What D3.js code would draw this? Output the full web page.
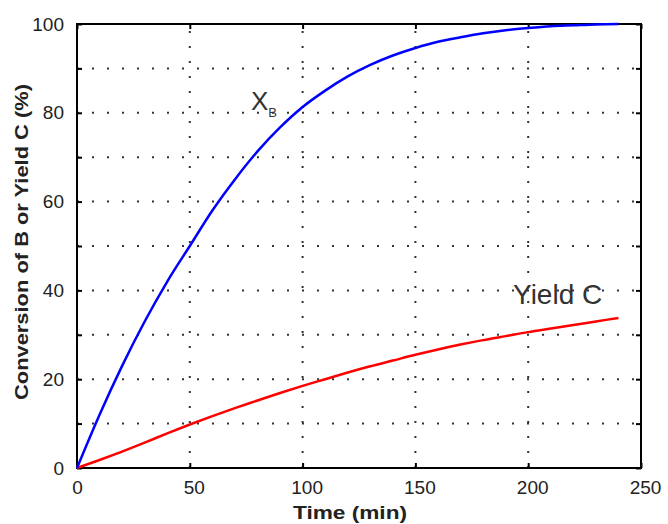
<!DOCTYPE html>
<html>
<head>
<meta charset="utf-8">
<script src="https://cdn.jsdelivr.net/npm/d3@7"></script>
<style>
  body { margin: 0; background: #fff; }
  text { font-family: "Liberation Sans", Arial, sans-serif; }
</style>
</head>
<body>
<div id="chart"></div>
<script>
// values
const time = [0, 10, 20, 30, 40, 50, 60, 70, 80, 90, 100, 110, 120, 130, 140, 150, 160, 170, 180, 190, 200, 210, 220, 230, 240];
const conversionB = [0, 12, 23, 33, 42, 50, 58, 65, 71.3, 76.7, 81.3, 85, 88.2, 90.8, 92.9, 94.6, 96, 97, 97.9, 98.6, 99.1, 99.5, 99.7, 99.9, 100];
const yieldC = [0, 1.8, 3.7, 5.7, 7.8, 9.8, 11.7, 13.5, 15.2, 16.9, 18.5, 20, 21.5, 22.9, 24.2, 25.5, 26.7, 27.8, 28.8, 29.7, 30.6, 31.4, 32.2, 33, 33.8];
const xTicks = [0, 50, 100, 150, 200, 250];
const yTicks = [0, 10, 20, 30, 40, 50, 60, 70, 80, 90, 100];
const yLabels = [0, 20, 40, 60, 80, 100];

let margin = { top: 24, left: 77, right: 27, bottom: 56 },
    width = 668,
    height = 524;

let svg = d3.select('#chart')
    .append('svg')
    .attr('width', width)
    .attr('height', height);

let x = d3.scaleLinear()
    .domain([0, 250])
    .range([margin.left, width - margin.right]);

let y = d3.scaleLinear()
    .domain([0, 100])
    .range([height - margin.bottom, margin.top]);

// dotted grid
svg.append('g')
    .selectAll('line')
    .data(xTicks.slice(1, -1)).enter()
    .append('line')
    .attr('x1', d => x(d)).attr('x2', d => x(d))
    .attr('y1', y(0)).attr('y2', y(100))
    .attr('stroke', '#333')
    .attr('stroke-width', 2)
    .attr('stroke-dasharray', '2 13');

svg.append('g')
    .selectAll('line')
    .data(yTicks.slice(1, -1)).enter()
    .append('line')
    .attr('x1', x(0)).attr('x2', x(250))
    .attr('y1', d => y(d)).attr('y2', d => y(d))
    .attr('stroke', '#333')
    .attr('stroke-width', 2)
    .attr('stroke-dasharray', '2 13');

// axes, ticks pointing inward like matlab
let axisStyle = g => {
    g.select('.domain').remove();
    g.selectAll('.tick line').attr('stroke', '#000').attr('stroke-width', 2);
    g.selectAll('text')
        .attr('font-size', 19)
        .attr('fill', '#222');
};

svg.append('g')
    .attr('transform', `translate(0,${y(0)})`)
    .call(d3.axisBottom(x).tickValues(xTicks).tickSizeInner(-5).tickPadding(13))
    .call(axisStyle)
    .selectAll('text').attr('dx', d => d > 0 ? 4 : 0);

svg.append('g')
    .attr('transform', `translate(0,${y(100)})`)
    .call(d3.axisTop(x).tickValues(xTicks).tickSizeInner(-5).tickFormat(''))
    .call(axisStyle);

svg.append('g')
    .attr('transform', `translate(${x(0)},0)`)
    .call(d3.axisLeft(y).tickValues(yTicks).tickSizeInner(-5).tickPadding(13)
        .tickFormat(d => yLabels.includes(d) ? d : ''))
    .call(axisStyle);

svg.append('g')
    .attr('transform', `translate(${x(250)},0)`)
    .call(d3.axisRight(y).tickValues(yTicks).tickSizeInner(-5).tickFormat(''))
    .call(axisStyle);

// frame
svg.append('rect')
    .attr('x', x(0))
    .attr('y', y(100))
    .attr('width', x(250) - x(0))
    .attr('height', y(0) - y(100))
    .attr('fill', 'none')
    .attr('stroke', '#000')
    .attr('stroke-width', 2);

// curves
let line = d3.line()
    .x((d, i) => x(time[i]))
    .y(d => y(d))
    .curve(d3.curveMonotoneX);

svg.append('path')
    .datum(yieldC)
    .attr('d', line)
    .attr('fill', 'none')
    .attr('stroke', '#ff0000')
    .attr('stroke-width', 2.5);

svg.append('path')
    .datum(conversionB)
    .attr('d', line)
    .attr('fill', 'none')
    .attr('stroke', '#0000ff')
    .attr('stroke-width', 2.5);

// annotations
let xb = svg.append('text')
    .attr('x', 251)
    .attr('y', 110)
    .attr('font-size', 26)
    .attr('fill', '#333');
xb.append('tspan').text('X');
xb.append('tspan').attr('font-size', 13).attr('dy', 7).text('B');

svg.append('text')
    .attr('x', 513)
    .attr('y', 304)
    .attr('font-size', 28)
    .attr('fill', '#333')
    .text('Yield C');

// axis titles
svg.append('text')
    .attr('x', 350)
    .attr('y', 519)
    .attr('text-anchor', 'middle')
    .attr('font-size', 19)
    .attr('font-weight', 'bold')
    .attr('fill', '#222')
    .attr('textLength', 114)
    .attr('lengthAdjust', 'spacingAndGlyphs')
    .text('Time (min)');

svg.append('text')
    .attr('transform', 'translate(28,242) rotate(-90)')
    .attr('text-anchor', 'middle')
    .attr('font-size', 19)
    .attr('font-weight', 'bold')
    .attr('fill', '#222')
    .attr('textLength', 316)
    .attr('lengthAdjust', 'spacingAndGlyphs')
    .text('Conversion of B or Yield C (%)');
</script>
</body>
</html>
